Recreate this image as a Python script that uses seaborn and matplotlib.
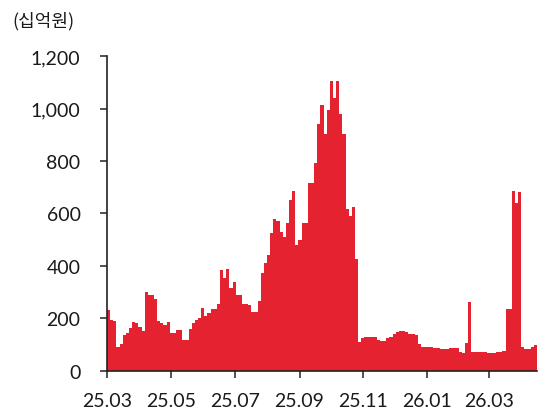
import numpy as np
import pandas as pd
import matplotlib
matplotlib.use("Agg")
import matplotlib.pyplot as plt
import matplotlib.dates as mdates
import matplotlib.ticker as mticker
import seaborn as sns

# ---- data (3-day periods starting 2025-03-01, values in 십억원) ----
period_start = "2025-03-01"
period_days = 3
values = [
    230, 195, 190, 92, 104, 136, 144, 165, 187, 184,
    166, 150, 299, 290, 288, 273, 190, 182, 176, 185,
    145, 145, 156, 156, 118, 118, 159, 182, 195, 200,
    240, 210, 220, 235, 235, 254, 385, 352, 390, 314,
    337, 288, 288, 254, 254, 250, 225, 225, 268, 372,
    410, 440, 527, 578, 570, 530, 510, 565, 651, 686,
    480, 500, 565, 565, 718, 718, 794, 940, 1015, 902,
    995, 1105, 1040, 1105, 978, 902, 616, 590, 625, 428,
    108, 125, 127, 127, 127, 127, 118, 115, 114, 125,
    127, 142, 148, 150, 150, 146, 142, 140, 135, 102,
    91, 91, 90, 89, 87, 85, 84, 83, 83, 85,
    86, 88, 72, 67, 105, 263, 70, 72, 72, 71,
    70, 69, 66, 66, 70, 70, 76, 235, 235, 686,
    639, 680, 89, 83, 83, 89, 100,
]
ytick_values = [0, 200, 400, 600, 800, 1000, 1200]
xtick_months = ["2025-03-01", "2025-05-01", "2025-07-01", "2025-09-01",
                "2025-11-01", "2026-01-01", "2026-03-01"]
unit_label = "(십억원)"

red = "#E5222F"
dark = "#222222"

sns.set_style("ticks")
plt.rcParams["font.family"] = ["Lato", "Noto Sans CJK KR", "DejaVu Sans"]

dates = pd.date_range(period_start, periods=len(values), freq=f"{period_days}D")
df = pd.DataFrame({
    "x": mdates.date2num(dates) + period_days / 2,
    "value": values,
})

fig = plt.figure(figsize=(5.43, 4.14), dpi=100)
ax = fig.add_axes([0.197, 0.102, 0.792, 0.760])

sns.barplot(data=df, x="x", y="value", native_scale=True, width=1,
            color=red, saturation=1, errorbar=None,
            edgecolor=red, linewidth=0, ax=ax)
for p in ax.patches:
    p.set_antialiased(False)

x0 = mdates.date2num(pd.Timestamp(period_start))
ax.set_xlim(x0, x0 + period_days * len(values))
ax.set_ylim(0, 1200)

ax.set_xticks(mdates.date2num(pd.to_datetime(xtick_months)))
ax.xaxis.set_major_formatter(mdates.DateFormatter("%y.%m"))
ax.set_yticks(ytick_values)
ax.yaxis.set_major_formatter(mticker.FuncFormatter(lambda v, p: f"{v:,.0f}"))
ax.xaxis.set_minor_locator(mticker.NullLocator())

ax.set_xlabel("")
ax.set_ylabel("")
sns.despine(ax=ax)
for s in ("left", "bottom"):
    ax.spines[s].set_color(dark)
    ax.spines[s].set_linewidth(1.2)
ax.tick_params(axis="both", colors=dark, length=5, width=1.1,
               labelsize=14, labelcolor="#1a1a1a")
ax.tick_params(axis="y", pad=14)
ax.tick_params(axis="x", pad=10)

fig.text(0.022, 1 - 21 / 414, unit_label, ha="left", va="center",
         fontsize=13, color="#1a1a1a", family=["Noto Sans CJK KR", "DejaVu Sans"])

fig.savefig("out.png", dpi=100)
